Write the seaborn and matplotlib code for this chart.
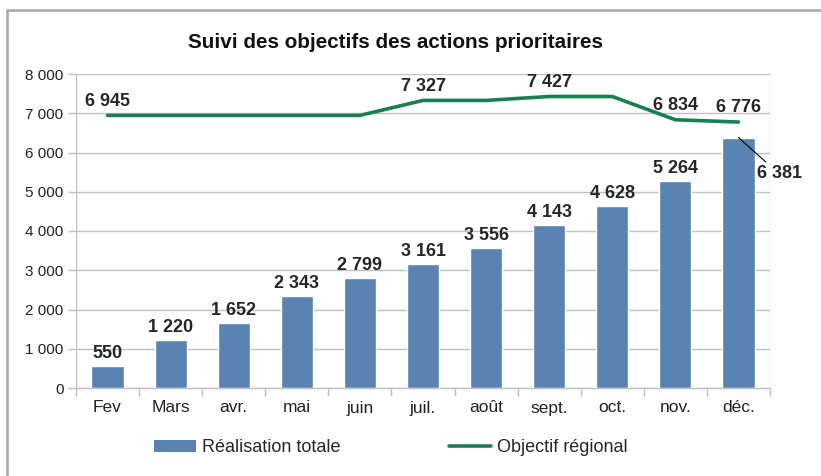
import matplotlib
matplotlib.use("Agg")
import matplotlib.pyplot as plt
import seaborn as sns
import pandas as pd
from matplotlib.patches import Rectangle
from matplotlib.lines import Line2D
from matplotlib.patches import Patch

months = ["Fev", "Mars", "avr.", "mai", "juin", "juil.", "août", "sept.", "oct.", "nov.", "déc."]
realisation = [550, 1220, 1652, 2343, 2799, 3161, 3556, 4143, 4628, 5264, 6381]
objectif = [6945, 6945, 6945, 6945, 6945, 7327, 7327, 7427, 7427, 6834, 6776]
objectif_labelled = [True, False, False, False, False, True, False, True, False, True, True]
yticks = [0, 1000, 2000, 3000, 4000, 5000, 6000, 7000, 8000]

title = "Suivi des objectifs des actions prioritaires"
bar_name = "Réalisation totale"
line_name = "Objectif régional"

bar_color = "#5a83b1"
line_color = "#1a7f50"
grid_color = "#c0c0c0"

def fmt(v):
    return f"{v:,}".replace(",", " ")

sns.set_theme(style="white")
plt.rcParams["font.family"] = ["Liberation Sans", "DejaVu Sans"]

df = pd.DataFrame({"mois": months, "real": realisation, "obj": objectif})

fig = plt.figure(figsize=(8.21, 4.76), dpi=100)
ax = fig.add_axes([76 / 821, 1 - 388 / 476, (770 - 76) / 821, (388 - 74) / 476])

sns.barplot(data=df, x="mois", y="real", color=bar_color, saturation=1,
            width=0.51, ax=ax, zorder=2)
sns.lineplot(data=df, x="mois", y="obj", color=line_color, linewidth=2.6,
             sort=False, ax=ax, zorder=3)

ax.set_ylim(0, 8000)
ax.set_xlim(-0.5, len(months) - 0.5)
ax.set_yticks(yticks)
ax.set_yticklabels([fmt(v) for v in yticks])
ax.set_xlabel("")
ax.set_ylabel("")
ax.yaxis.grid(True, color=grid_color, linewidth=1)
ax.set_axisbelow(True)

for s in ["left", "right", "top"]:
    ax.spines[s].set_visible(False)
ax.spines["bottom"].set_color(grid_color)
ax.spines["bottom"].set_linewidth(1)
ax.axvline(len(months) - 0.5, color=grid_color, linewidth=1, zorder=1)
ax.axvline(-0.5, color=grid_color, linewidth=1, zorder=1)

ax.tick_params(axis="y", length=6, color=grid_color, width=1, labelsize=11,
               labelcolor="#222222", pad=3, left=True)
ax.set_xticks(range(len(months)))
ax.set_xticklabels(months)
ax.tick_params(axis="x", length=0, labelsize=12.5, labelcolor="#222222", pad=9)
ax.set_xticks([i - 0.5 for i in range(len(months) + 1)], minor=True)
ax.tick_params(axis="x", which="minor", length=6, color=grid_color, width=1, bottom=True)

# bar labels
for i, v in enumerate(realisation):
    if i == len(realisation) - 1:
        ax.annotate(fmt(v), xy=(i, v), xytext=(13, -20), textcoords="offset points",
                    ha="left", va="top", fontsize=13, fontweight="bold",
                    arrowprops=dict(arrowstyle="-", color="black", linewidth=0.8,
                                    shrinkA=0, shrinkB=0))
    else:
        ax.annotate(fmt(v), xy=(i, v), xytext=(0, 3), textcoords="offset points",
                    ha="center", va="bottom", fontsize=13, fontweight="bold")

# line labels
for i, (v, lab) in enumerate(zip(objectif, objectif_labelled)):
    if lab:
        ax.annotate(fmt(v), xy=(i, v), xytext=(0, 4), textcoords="offset points",
                    ha="center", va="bottom", fontsize=13, fontweight="bold")

fig.text(395 / 821, 1 - 42 / 476, title, ha="center", va="center",
         fontsize=14.9, fontweight="bold", color="#111111")

handles = [Patch(facecolor=bar_color, edgecolor="none"),
           Line2D([0], [0], color=line_color, linewidth=2.6)]
fig.legend(handles, [bar_name, line_name], loc="center", ncol=2,
           bbox_to_anchor=(391 / 821, 1 - 448 / 476), frameon=False,
           fontsize=13, handlelength=2.3, handleheight=0.6, handletextpad=0.35,
           columnspacing=6.0)

fig.patches.append(Rectangle((6.5 / 821, -0.1), 1.2, 1.1 - 10.5 / 476,
                             transform=fig.transFigure, fill=False,
                             edgecolor="#a6a6a6", linewidth=1.8))

fig.savefig("out.png", dpi=100)
